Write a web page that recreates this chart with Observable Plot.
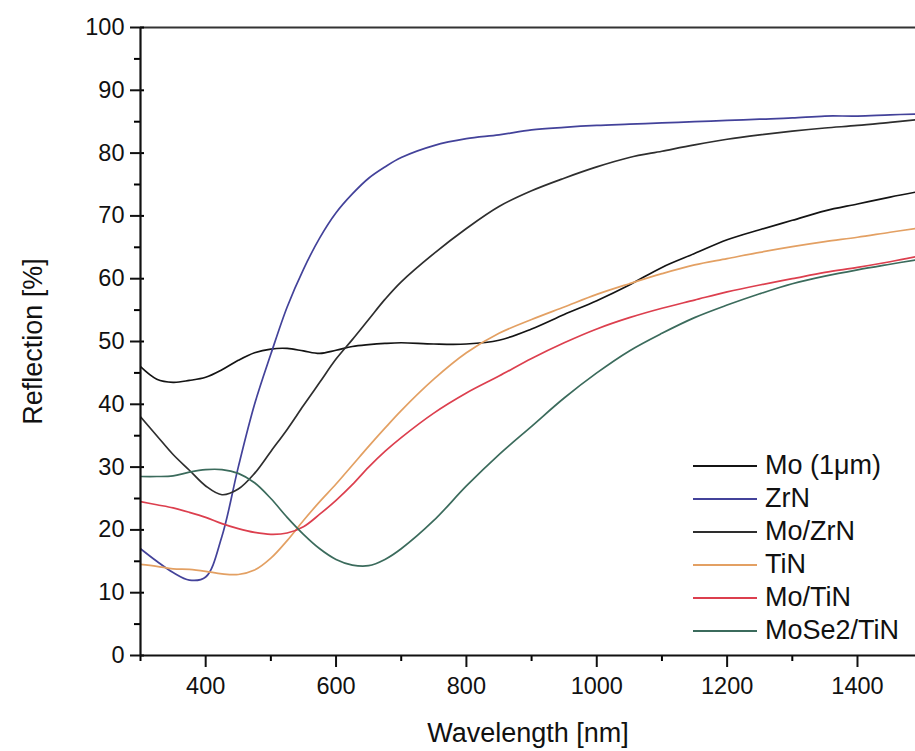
<!DOCTYPE html>
<html>
<head>
<meta charset="utf-8">
<script src="https://cdn.jsdelivr.net/npm/d3@7"></script>
<script src="https://cdn.jsdelivr.net/npm/@observablehq/plot@0.6"></script>
<style>
  html, body { margin: 0; padding: 0; background: #fff; }
  #wrap { position: relative; width: 915px; height: 751px; overflow: hidden; font-family: 'Liberation Sans', Arial, sans-serif; }
  #legend { position: absolute; left: 693px; top: 449px; }
  .row { display: flex; align-items: center; height: 33px; }
  .row svg { width: 64px; height: 6px; margin-right: 8px; }
  .row span { font-size: 27px; color: #111; line-height: 33px; }
</style>
</head>
<body>
<div id="wrap"><div id="legend"></div></div>
<script>
const wavelengths = [300, 325, 350, 375, 400, 425, 450, 475, 500, 525, 550, 575, 600, 625, 650, 675, 700, 750, 800, 850, 900, 950, 1000, 1050, 1100, 1150, 1200, 1250, 1300, 1350, 1400, 1450, 1490];

const seriesNames = ["Mo (1\u03bcm)", "ZrN", "Mo/ZrN", "TiN", "Mo/TiN", "MoSe2/TiN"];
const seriesColors = ["#141414", "#43429a", "#2e2e2e", "#e3a063", "#dc3f4e", "#3b6b5c"];

const mo1um    = [46, 44, 43.5, 43.8, 44.3, 45.5, 47, 48.2, 48.8, 48.9, 48.5, 48.1, 48.6, 49.2, 49.5, 49.7, 49.8, 49.6, 49.6, 50.2, 52, 54.3, 56.5, 59, 61.8, 64, 66.2, 67.8, 69.3, 70.8, 71.9, 73, 73.8];
const zrn      = [17, 15, 13.2, 12, 12.5, 19, 30, 40, 48, 55.5, 61.5, 66.5, 70.5, 73.5, 76, 77.8, 79.3, 81.2, 82.3, 82.9, 83.7, 84.1, 84.4, 84.6, 84.8, 85, 85.2, 85.4, 85.6, 85.9, 85.9, 86.1, 86.2];
const moZrn    = [38, 35, 32, 29.5, 27, 25.6, 26.5, 29, 32.5, 36, 39.8, 43.5, 47.2, 50.3, 53.5, 56.7, 59.5, 64, 68, 71.5, 74, 76, 77.8, 79.3, 80.3, 81.3, 82.2, 82.9, 83.5, 84, 84.4, 84.9, 85.3];
const tin      = [14.5, 14.2, 13.8, 13.7, 13.4, 13, 12.9, 13.6, 15.5, 18.3, 21.5, 24.5, 27.3, 30.3, 33.3, 36.2, 39, 44, 48.2, 51.3, 53.5, 55.5, 57.5, 59.2, 60.8, 62.2, 63.2, 64.2, 65.1, 65.9, 66.6, 67.4, 68];
const moTin    = [24.5, 24, 23.5, 22.8, 22, 21, 20.2, 19.6, 19.3, 19.5, 20.5, 22.5, 24.7, 27.2, 30, 32.5, 34.7, 38.6, 41.8, 44.5, 47.3, 49.8, 52, 53.8, 55.3, 56.6, 57.9, 59, 60, 61, 61.8, 62.7, 63.5];
const mose2Tin = [28.5, 28.5, 28.6, 29.2, 29.6, 29.6, 29, 27.5, 25, 22, 19.3, 17, 15.3, 14.4, 14.3, 15.3, 17, 21.5, 27, 32, 36.5, 41, 45, 48.5, 51.3, 53.8, 55.8, 57.6, 59.2, 60.4, 61.4, 62.3, 63];

const xMajorTicks = [400, 600, 800, 1000, 1200, 1400];
const xMinorTicks = [300, 500, 700, 900, 1100, 1300];
const yMajorTicks = [0, 10, 20, 30, 40, 50, 60, 70, 80, 90, 100];
const yMinorTicks = [5, 15, 25, 35, 45, 55, 65, 75, 85, 95];

const allSeries = [mo1um, zrn, moZrn, tin, moTin, mose2Tin];
const rows = [];
allSeries.forEach((vals, i) => {
  vals.forEach((v, j) => rows.push({series: seriesNames[i], wl: wavelengths[j], r: v}));
});

const font = "'Liberation Sans', Arial, sans-serif";

const chart = Plot.plot({
  width: 915,
  height: 751,
  marginLeft: 140,
  marginRight: 0,
  marginTop: 27,
  marginBottom: 96,
  style: {fontFamily: font, background: "#fff", overflow: "visible"},
  x: {domain: [300, 1489]},
  y: {domain: [0, 100]},
  color: {domain: seriesNames, range: seriesColors},
  marks: [
    Plot.line(rows, {x: "wl", y: "r", z: "series", stroke: "series", strokeWidth: 1.7, curve: "catmull-rom", clip: true}),
    Plot.ruleY([100], {stroke: "#333", strokeWidth: 2}),
    Plot.axisX({ticks: xMinorTicks, tickSize: 6, text: null, label: null, strokeWidth: 2}),
    Plot.axisX({ticks: xMajorTicks, tickSize: 12, tickPadding: 10, fontSize: 23.5, tickFormat: d => String(d), strokeWidth: 2,
      label: "Wavelength [nm]", labelAnchor: "center", labelArrow: "none", labelOffset: 86, color: "#111"}),
    Plot.axisY({ticks: yMinorTicks, tickSize: 6, text: null, label: null, strokeWidth: 2}),
    Plot.axisY({ticks: yMajorTicks, tickSize: -4, text: null, label: null, strokeWidth: 2}),
    Plot.axisY({ticks: yMajorTicks, tickSize: 10, tickPadding: 6, fontSize: 23.5, strokeWidth: 2,
      label: "Reflection [%]", labelAnchor: "center", labelArrow: "none", labelOffset: 118, color: "#111"}),
    Plot.ruleX([300], {stroke: "#111", strokeWidth: 2.2}),
    Plot.ruleY([0], {stroke: "#111", strokeWidth: 2.2})
  ]
});

chart.querySelectorAll("g[aria-label='x-axis label'] text, g[aria-label='y-axis label'] text").forEach(t => {
  t.setAttribute("font-size", "27");
  t.style.fontSize = "27px";
});

document.getElementById("wrap").prepend(chart);

const legend = document.getElementById("legend");
seriesNames.forEach((name, i) => {
  const row = document.createElement("div");
  row.className = "row";
  row.innerHTML = `<svg viewBox="0 0 64 6"><line x1="0" y1="3" x2="64" y2="3" stroke="${seriesColors[i]}" stroke-width="2"/></svg><span>${name}</span>`;
  legend.appendChild(row);
});
</script>
</body>
</html>
